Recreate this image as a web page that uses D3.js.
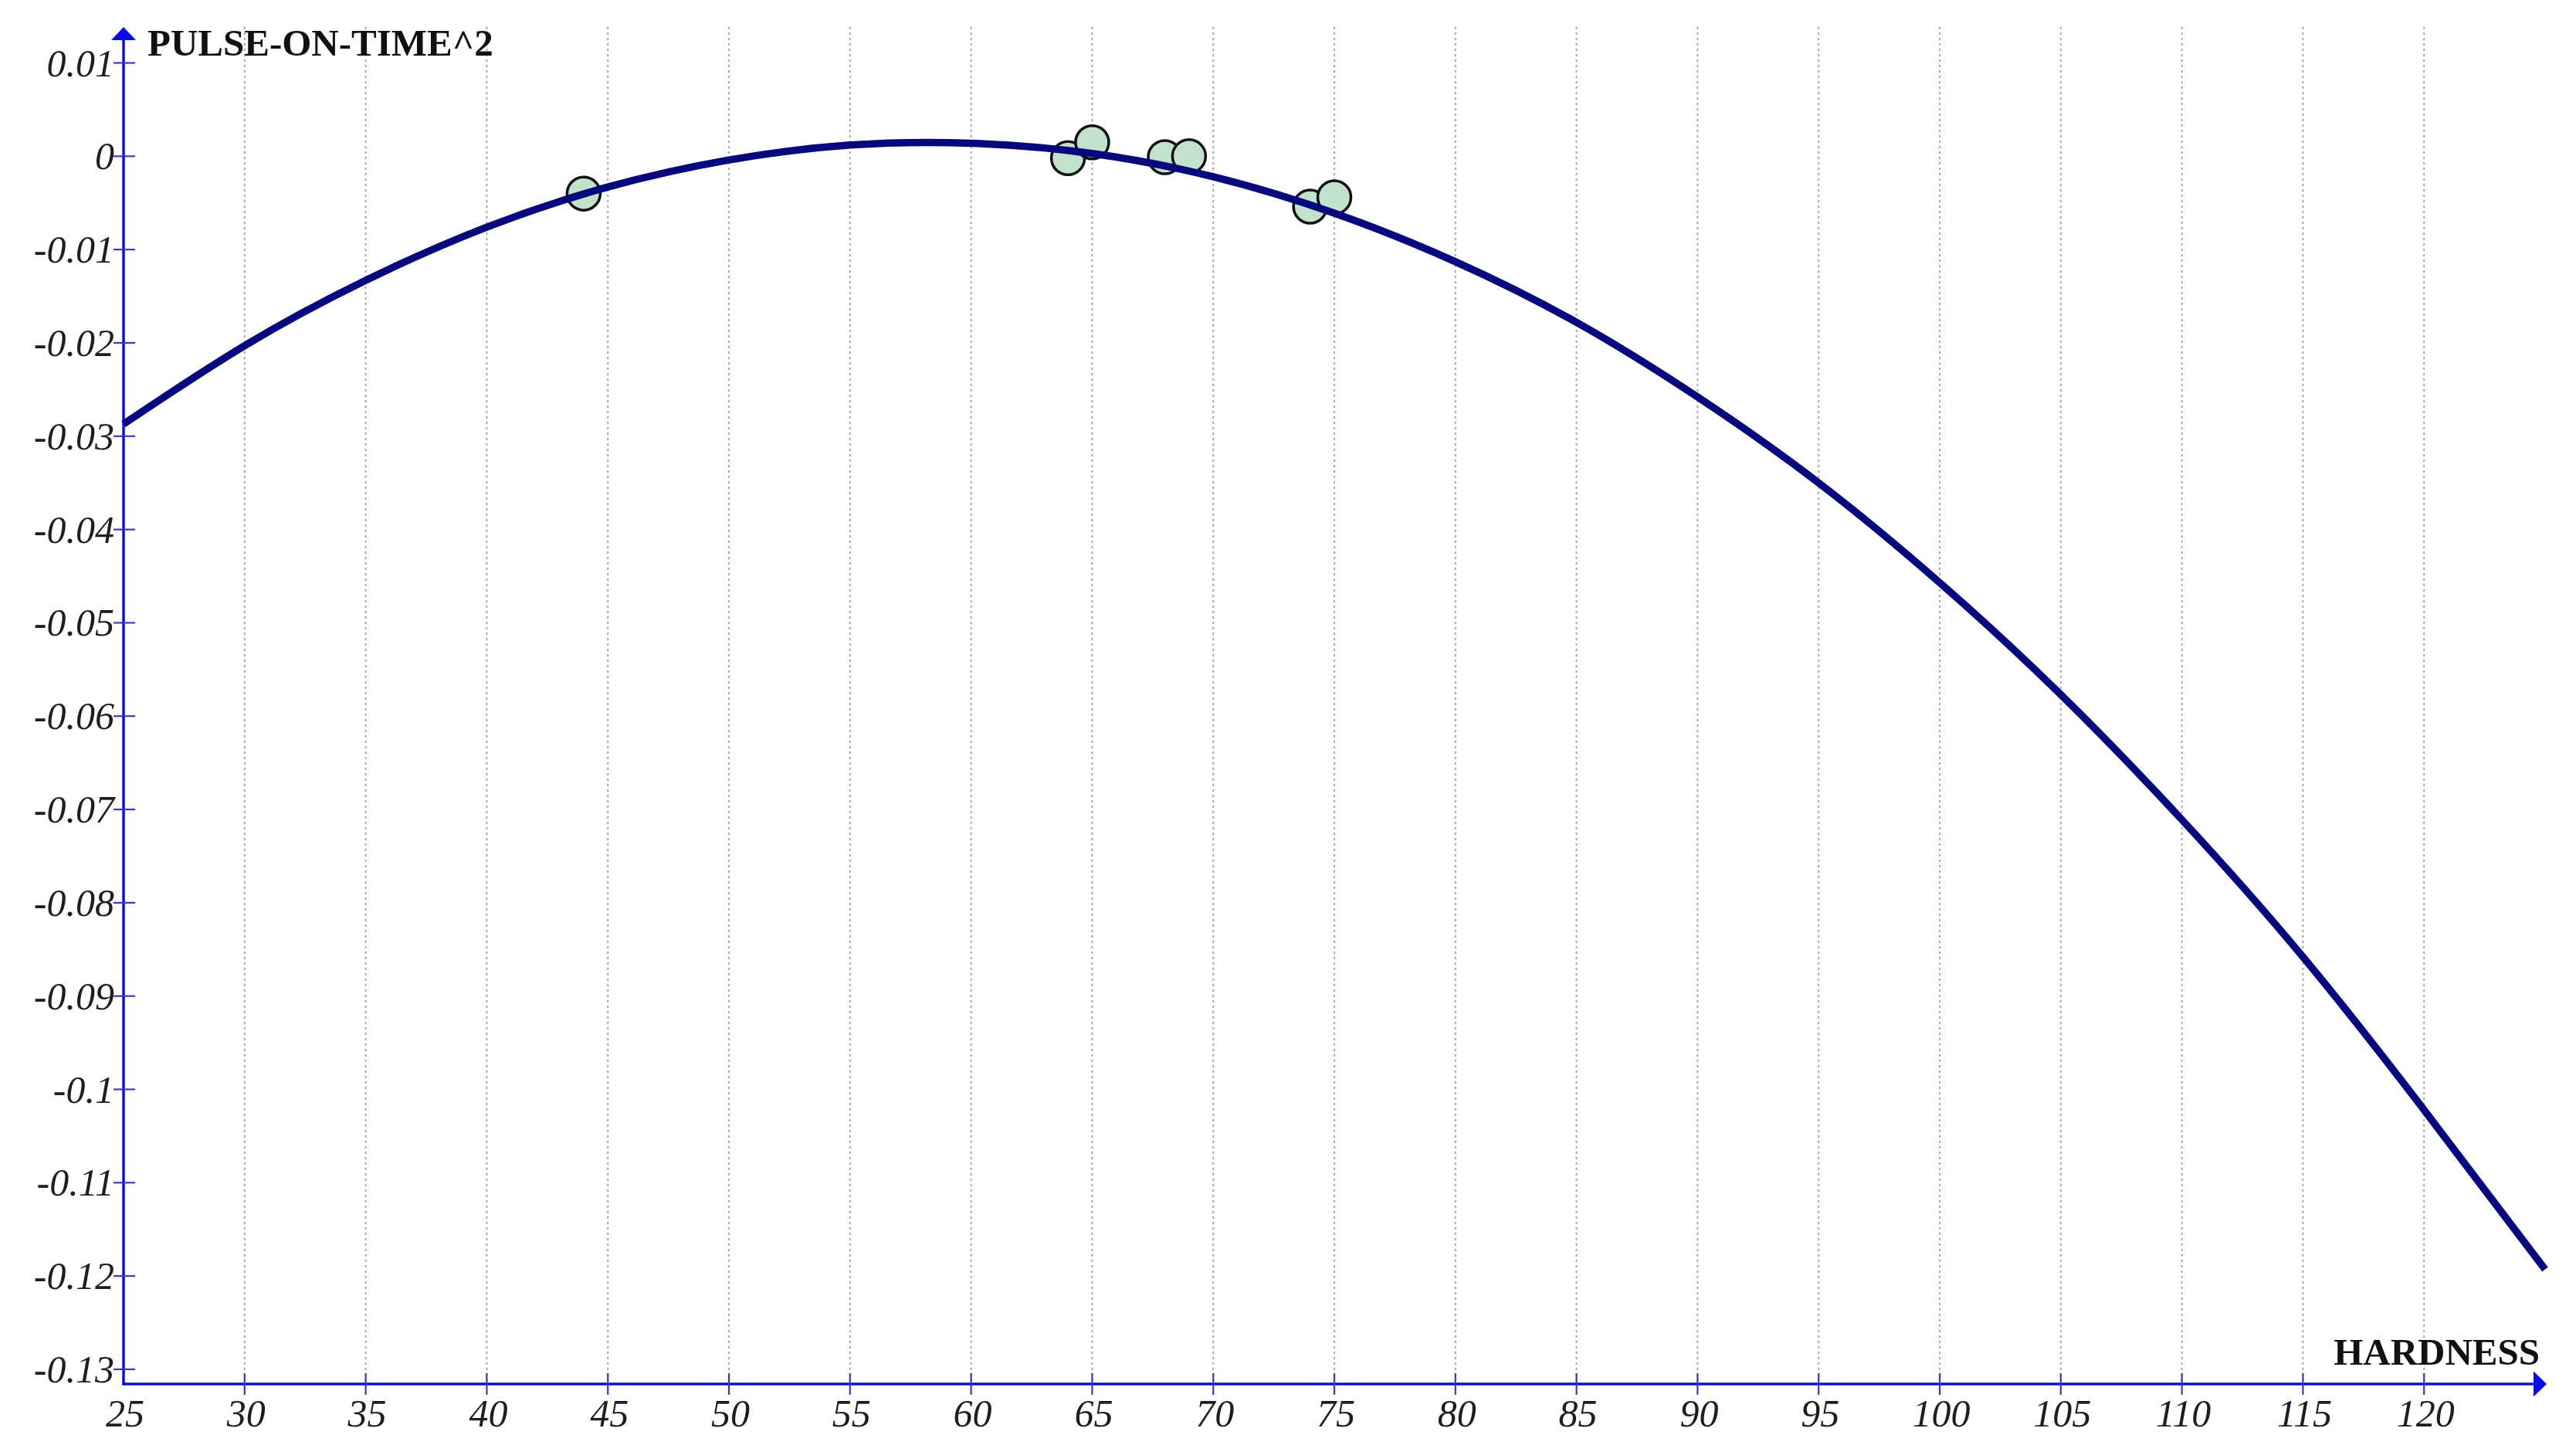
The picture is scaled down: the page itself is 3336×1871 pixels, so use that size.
<!DOCTYPE html>
<html>
<head>
<meta charset="utf-8">
<script src="https://cdn.jsdelivr.net/npm/d3@7"></script>
<style>
  html, body { margin: 0; padding: 0; background: #ffffff; }
  svg { display: block; }
</style>
</head>
<body>
<script>
// ---- Data ----
const xTicks = [25, 30, 35, 40, 45, 50, 55, 60, 65, 70, 75, 80, 85, 90, 95, 100, 105, 110, 115, 120];
const yTicks = [0.01, 0, -0.01, -0.02, -0.03, -0.04, -0.05, -0.06, -0.07, -0.08, -0.09, -0.1, -0.11, -0.12, -0.13];
const yTickLabels = ["0.01", "0", "-0.01", "-0.02", "-0.03", "-0.04", "-0.05", "-0.06", "-0.07", "-0.08", "-0.09", "-0.1", "-0.11", "-0.12", "-0.13"];

// observed data points (HARDNESS, PULSE-ON-TIME^2)
const pointHardness = [44, 64, 65, 68, 69, 74, 75];
const pointValue = [-0.0040, -0.0002, 0.0015, -0.0001, 0.0000, -0.0054, -0.0044];

// fitted curve at every 5 units of hardness
const curveHardness = [25, 30, 35, 40, 45, 50, 55, 60, 65, 70, 75, 80, 85, 90, 95, 100, 105, 110, 115, 120, 125];
const curveValue = [-0.0287, -0.0203, -0.0133, -0.0076, -0.0033, -0.0004, 0.0012, 0.0014, 0.0003, -0.0022, -0.0061, -0.0113, -0.0178, -0.0258, -0.0350, -0.0457, -0.0577, -0.0711, -0.0858, -0.1022, -0.1193];

const xTitle = "HARDNESS";
const yTitle = "PULSE-ON-TIME^2";

// ---- Layout ----
const W = 3336, H = 1871;
const axisColor = "#1010c8";
const x = d3.scaleLinear().domain([25, 125]).range([160, 3296]);
const y = d3.scaleLinear().domain([-0.13, 0.01]).range([1773, 81.5]);
const axisY = 1792;   // pixel row of the horizontal axis
const axisX = x(25);  // pixel column of the vertical axis
const topY = 35;

const svg = d3.select("body").append("svg").attr("width", W).attr("height", H);

// vertical dotted grid
svg.append("g").selectAll("line")
  .data(xTicks.filter(d => d !== 25))
  .join("line")
  .attr("x1", d => x(d)).attr("x2", d => x(d))
  .attr("y1", topY).attr("y2", axisY)
  .attr("stroke", "#a6a6c0").attr("stroke-width", 2)
  .attr("stroke-dasharray", "3,4");

// axes lines
svg.append("line").attr("x1", axisX).attr("x2", axisX).attr("y1", axisY + 1.5).attr("y2", topY + 14)
  .attr("stroke", axisColor).attr("stroke-width", 3.5);
svg.append("line").attr("x1", axisX - 1.5).attr("x2", 3286).attr("y1", axisY).attr("y2", axisY)
  .attr("stroke", axisColor).attr("stroke-width", 3.5);

// arrows
svg.append("path")
  .attr("d", `M${axisX},${topY} L${axisX - 16},${topY + 17} L${axisX + 16},${topY + 17} Z`)
  .attr("fill", "#0a0aee");
svg.append("path")
  .attr("d", `M3298,${axisY} L3281,${axisY - 16.5} L3281,${axisY + 16.5} Z`)
  .attr("fill", "#0a0aee");

// y ticks
svg.append("g").selectAll("line")
  .data(yTicks).join("line")
  .attr("x1", axisX - 13).attr("x2", axisX + 15)
  .attr("y1", d => y(d)).attr("y2", d => y(d))
  .attr("stroke", "#3a3ab8").attr("stroke-width", 2.2);

// x ticks
svg.append("g").selectAll("line")
  .data(xTicks.filter(d => d !== 25)).join("line")
  .attr("x1", d => x(d)).attr("x2", d => x(d))
  .attr("y1", axisY - 14).attr("y2", axisY + 14)
  .attr("stroke", "#3a3ab8").attr("stroke-width", 2.2);

// y tick labels
svg.append("g").selectAll("text")
  .data(yTicks).join("text")
  .attr("x", 148).attr("y", d => y(d) + 17)
  .attr("text-anchor", "end")
  .attr("font-family", "'Liberation Serif', 'DejaVu Serif', serif")
  .attr("font-style", "italic")
  .attr("font-size", 50)
  .attr("fill", "#1e1e1e")
  .text((d, i) => yTickLabels[i]);

// x tick labels
svg.append("g").selectAll("text")
  .data(xTicks).join("text")
  .attr("x", d => x(d) + 2).attr("y", 1847)
  .attr("text-anchor", "middle")
  .attr("font-family", "'Liberation Serif', 'DejaVu Serif', serif")
  .attr("font-style", "italic")
  .attr("font-size", 50)
  .attr("fill", "#1e1e1e")
  .text(d => d);

// axis titles
svg.append("text")
  .attr("x", 191).attr("y", 72)
  .attr("font-family", "'Liberation Serif', serif")
  .attr("font-weight", "bold")
  .attr("font-size", 49)
  .attr("fill", "#111")
  .text(yTitle);
svg.append("text")
  .attr("x", 3289).attr("y", 1767)
  .attr("text-anchor", "end")
  .attr("font-family", "'Liberation Serif', serif")
  .attr("font-weight", "bold")
  .attr("font-size", 49)
  .attr("fill", "#111")
  .text(xTitle);

// data points
const pts = pointHardness.map((h, i) => ({ h, v: pointValue[i] }));
svg.append("g").selectAll("circle")
  .data(pts).join("circle")
  .attr("cx", d => x(d.h)).attr("cy", d => y(d.v))
  .attr("r", 21.5)
  .attr("fill", "#c2e2cc")
  .attr("stroke", "#111")
  .attr("stroke-width", 3.5);

// fitted curve (drawn on top)
const curvePts = curveHardness.map((h, i) => [h, curveValue[i]]);
svg.append("path")
  .datum(curvePts)
  .attr("d", d3.line().x(d => x(d[0])).y(d => y(d[1])).curve(d3.curveNatural))
  .attr("fill", "none")
  .attr("stroke", "#08087e")
  .attr("stroke-width", 9.5)
  .attr("stroke-linecap", "butt");
</script>
</body>
</html>
